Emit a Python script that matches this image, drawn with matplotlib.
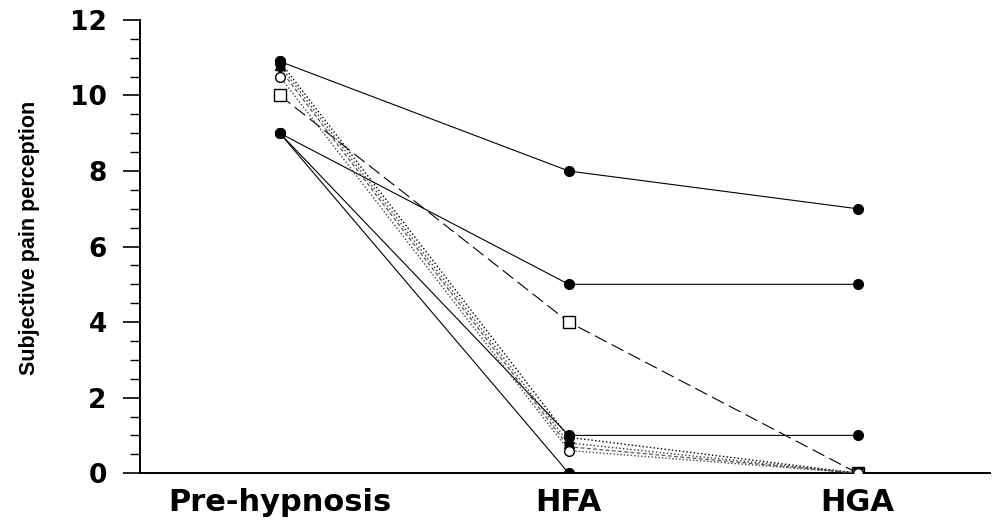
import matplotlib.pyplot as plt
from matplotlib.ticker import MultipleLocator
import numpy as np

# Pain ratings per subject at the three time points
stages = ['Pre-hypnosis', 'HFA', 'HGA']

subj_1 = [10.9, 8, 7]
subj_2 = [9, 5, 5]
subj_3 = [9, 1, 1]
subj_4 = [9, 0, 0]
subj_5 = [10, 4, 0]
subj_6 = [10.9, 0.95, 0]
subj_7 = [10.8, 0.8, 0]
subj_8 = [10.7, 0.7, 0]
subj_9 = [10.5, 0.6, 0]


def draw_subjects(ax, x):
    """
    Draw one line per subject, with the marker/linestyle used in the original figure
    """
    solid = dict(color='black', lw=0.8, marker='o', ms=7, mfc='black', mec='black')
    ax.plot(x, subj_1, ls='-', **solid)
    ax.plot(x, subj_2, ls='-', **solid)
    ax.plot(x, subj_3, ls='-', **solid)
    ax.plot(x, subj_4, ls='-', **solid)

    ax.plot(x, subj_5, ls=(0, (12, 5)), color='black', lw=0.8,
            marker='s', ms=9, mfc='white', mec='black', mew=1)

    ax.plot(x, subj_6, ls=':', color='black', lw=1.0,
            marker='o', ms=7, mfc='black', mec='black')
    ax.plot(x, subj_7, ls=':', color='#333333', lw=1.0,
            marker='^', ms=7, mfc='black', mec='black')
    ax.plot(x, subj_8, ls=(0, (3, 2)), color='#555555', lw=0.9,
            marker='v', ms=7, mfc='black', mec='black')
    ax.plot(x, subj_9, ls=(0, (1, 1.5)), color='#444444', lw=1.0,
            marker='o', ms=7, mfc='white', mec='black')


fig = plt.figure(figsize=(9.96, 5.24), dpi=100)
ax = fig.add_axes([0.1406, 0.097, 0.853, 0.865])

x = np.arange(len(stages))
draw_subjects(ax, x)

ax.set_xlim(-0.484, 2.457)
ax.set_ylim(0, 12)
ax.set_xticks(x)
ax.set_xticklabels(stages, fontfamily='DejaVu Sans', fontweight='bold', fontsize=22)
ax.tick_params(axis='x', length=0, pad=11)

ax.yaxis.set_major_locator(MultipleLocator(2))
ax.yaxis.set_minor_locator(MultipleLocator(0.5))
ax.tick_params(axis='y', which='major', length=12, width=1.2, pad=12,
               labelsize=19)
ax.tick_params(axis='y', which='minor', length=7, width=1.0)
for lbl in ax.get_yticklabels():
    lbl.set_fontfamily('DejaVu Sans')
    lbl.set_fontweight('bold')

ax.set_ylabel('Subjective pain perception',
              fontfamily=['Liberation Sans', 'DejaVu Sans'],
              fontweight='bold', fontsize=15.5)
ax.yaxis.set_label_coords(-0.118, 0.52)

ax.spines['top'].set_visible(False)
ax.spines['right'].set_visible(False)
ax.spines['left'].set_linewidth(1.4)
ax.spines['bottom'].set_linewidth(1.4)
for sp in ax.spines.values():
    sp.set_zorder(0)

fig.savefig('out.png', dpi=100)
